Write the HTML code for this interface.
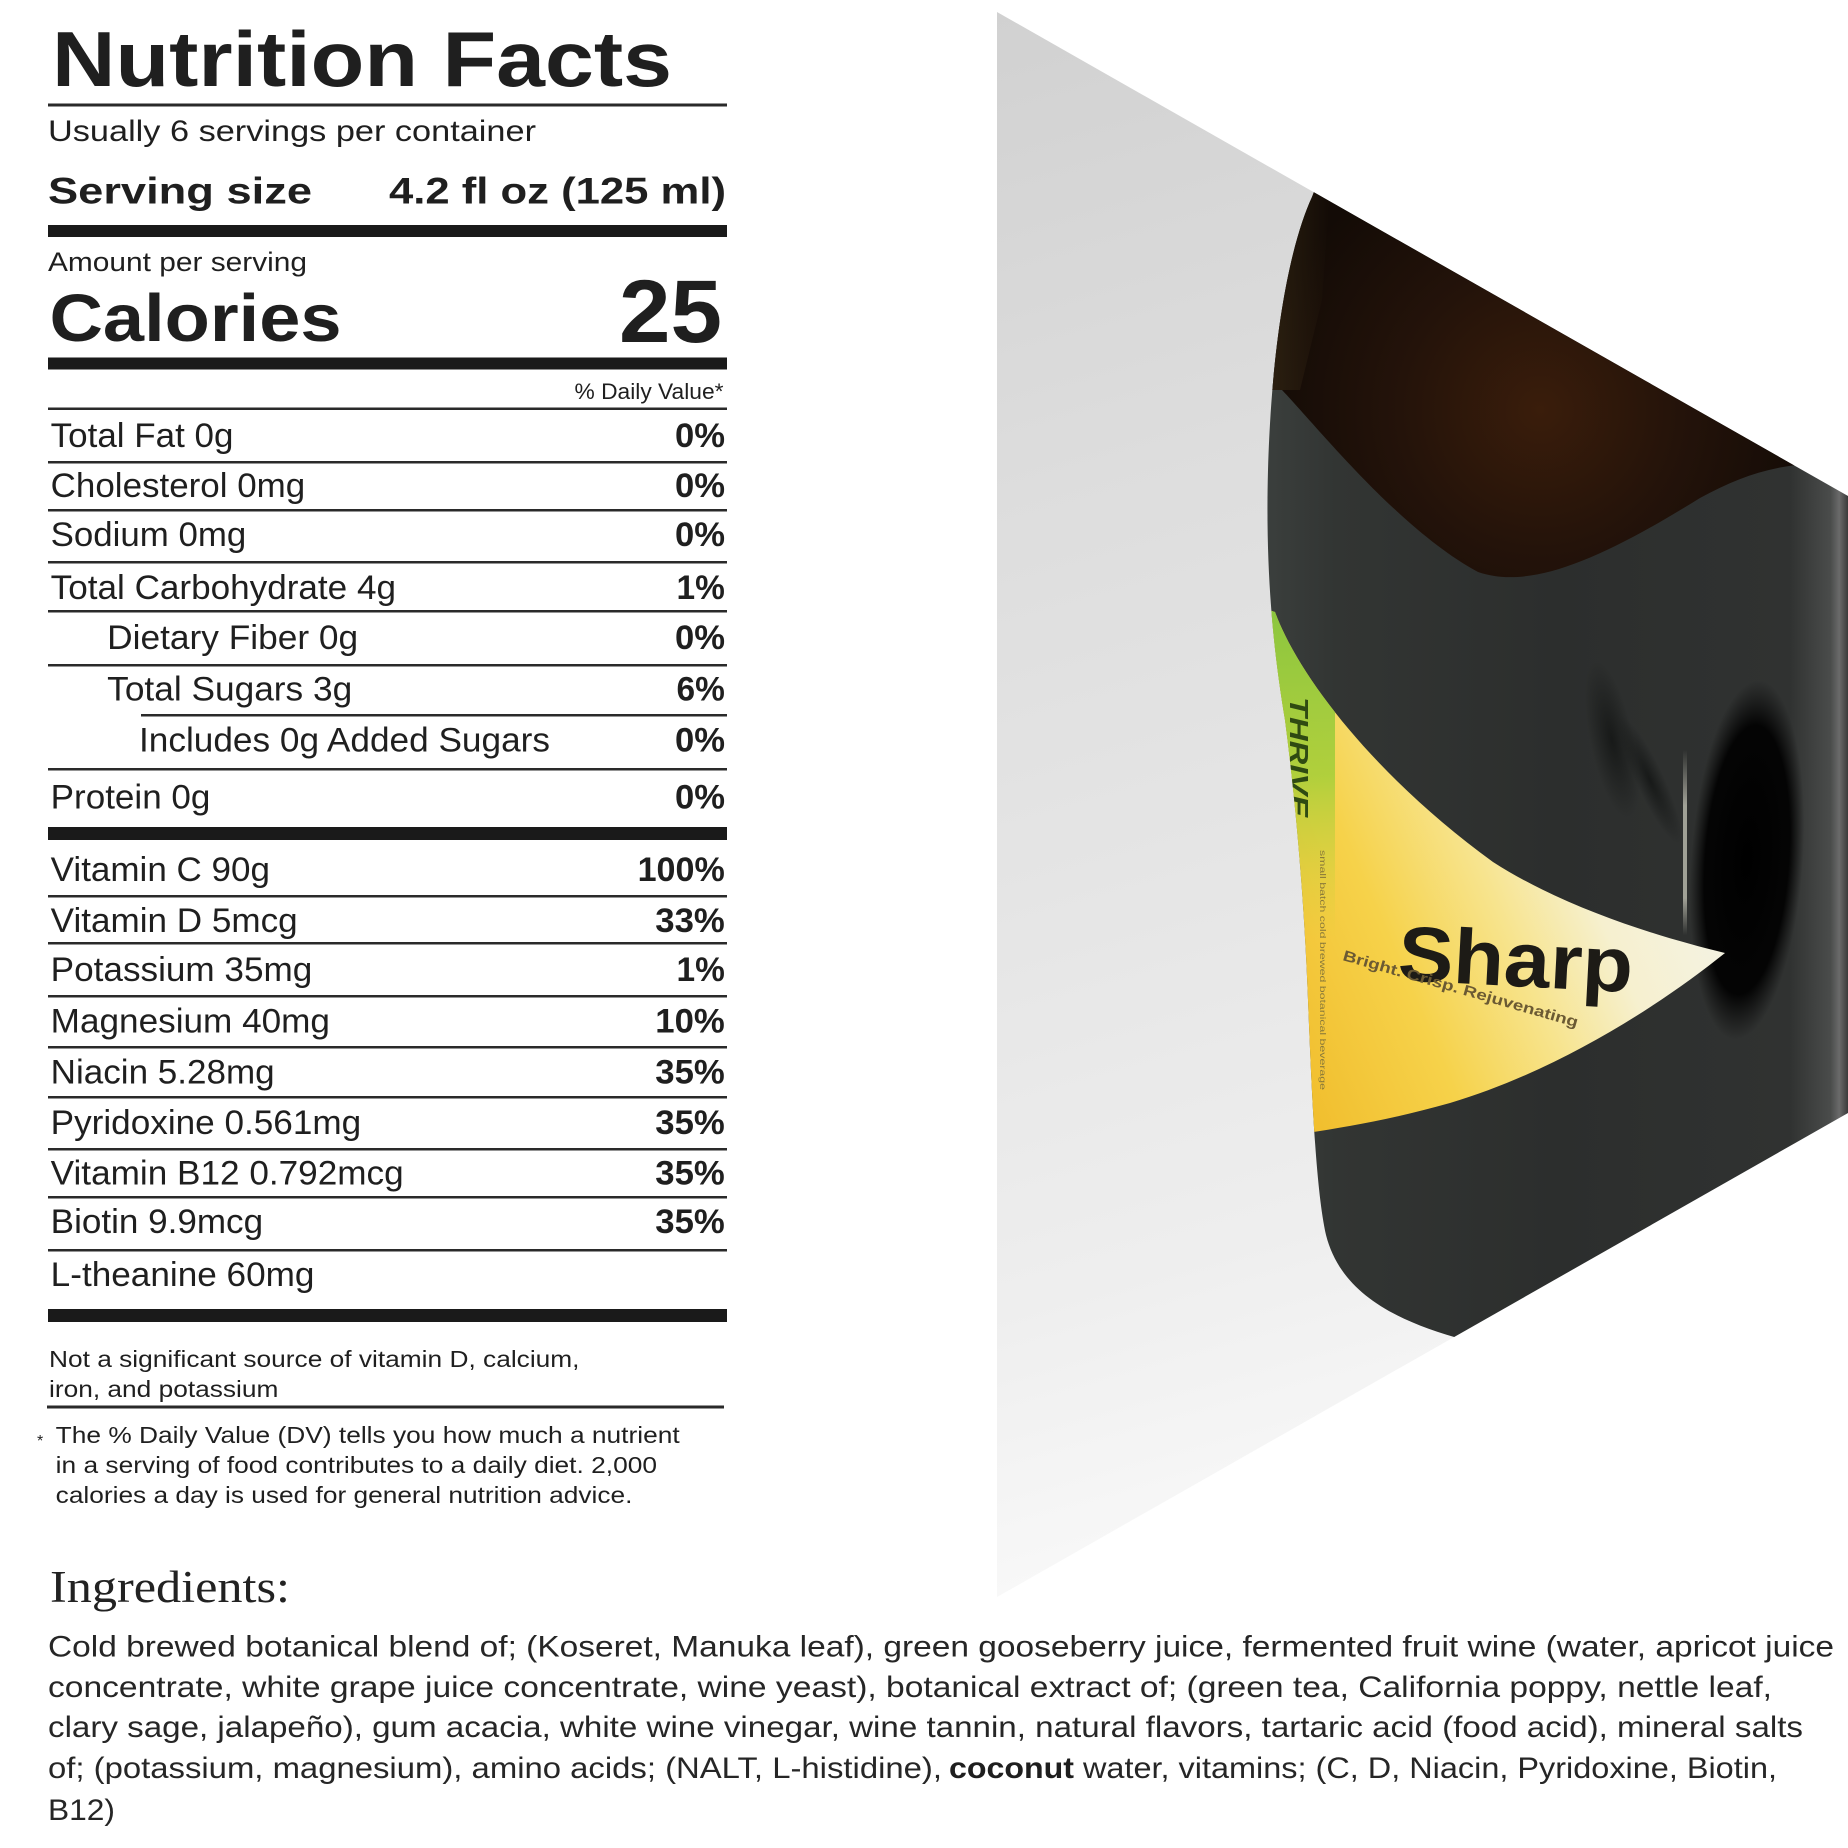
<!DOCTYPE html>
<html><head><meta charset="utf-8">
<style>
html,body{margin:0;padding:0;background:#fff;width:1848px;height:1848px;overflow:hidden;}
svg{display:block;}
.t{font-family:"Liberation Sans",Arial,sans-serif;fill:#1f1f1f;}
.b{font-weight:bold;}
.s{font-family:"Liberation Serif",serif;fill:#222;}
</style></head>
<body>
<svg width="1848" height="1848" viewBox="0 0 1848 1848" xmlns="http://www.w3.org/2000/svg">
<defs>
  <clipPath id="tri"><polygon points="997,12 1848,496 1848,1113 997,1597"/></clipPath>
  <clipPath id="bot"><path d="M1330,150 L1312,197 C1292,240 1272,330 1268,470 C1265,580 1275,660 1285,720 C1298,820 1305,920 1308,1000 C1312,1100 1316,1190 1326,1235 C1340,1290 1390,1320 1465,1340 L1900,1340 L1900,150 Z"/></clipPath>
  <clipPath id="lab"><path d="M1240,600 L1275,612 C1300,680 1380,780 1493,862 C1560,905 1650,935 1725,953 C1660,1005 1560,1070 1450,1103 C1390,1120 1340,1128 1300,1134 L1240,1134 Z"/></clipPath>
  <linearGradient id="gray" x1="0" y1="0" x2="0.15" y2="1">
    <stop offset="0" stop-color="#d1d1d1"/>
    <stop offset="0.3" stop-color="#dddddd"/>
    <stop offset="0.55" stop-color="#e5e5e5"/>
    <stop offset="0.8" stop-color="#eeeeee"/>
    <stop offset="1" stop-color="#f9f9f9"/>
  </linearGradient>
  <linearGradient id="body" gradientUnits="userSpaceOnUse" x1="1265" y1="0" x2="1848" y2="0">
    <stop offset="0" stop-color="#3b3f3d"/>
    <stop offset="0.12" stop-color="#323533"/>
    <stop offset="0.5" stop-color="#2c2e2d"/>
    <stop offset="0.9" stop-color="#303231"/>
    <stop offset="0.97" stop-color="#4a4c4b"/>
    <stop offset="0.985" stop-color="#6a6a6a"/>
    <stop offset="1" stop-color="#3a3a3a"/>
  </linearGradient>
  <radialGradient id="brown" gradientUnits="userSpaceOnUse" cx="1540" cy="410" r="280">
    <stop offset="0" stop-color="#3a1d0b"/>
    <stop offset="0.5" stop-color="#24130a"/>
    <stop offset="1" stop-color="#130b06"/>
  </radialGradient>
  <radialGradient id="blob">
    <stop offset="0" stop-color="#000" stop-opacity="1"/>
    <stop offset="0.75" stop-color="#030303" stop-opacity="0.97"/>
    <stop offset="1" stop-color="#0a0a0a" stop-opacity="0"/>
  </radialGradient>
  <radialGradient id="blob2">
    <stop offset="0" stop-color="#151716" stop-opacity="0.9"/>
    <stop offset="1" stop-color="#151716" stop-opacity="0"/>
  </radialGradient>
  <linearGradient id="hl" x1="0" y1="0" x2="0" y2="1">
    <stop offset="0" stop-color="#bdbdb0" stop-opacity="0"/>
    <stop offset="0.3" stop-color="#bdbdb0" stop-opacity="0.8"/>
    <stop offset="0.8" stop-color="#bdbdb0" stop-opacity="0.8"/>
    <stop offset="1" stop-color="#bdbdb0" stop-opacity="0"/>
  </linearGradient>
  <linearGradient id="labg" gradientUnits="userSpaceOnUse" x1="1310" y1="1100" x2="1725" y2="920">
    <stop offset="0" stop-color="#f1bf2f"/>
    <stop offset="0.3" stop-color="#f6d24a"/>
    <stop offset="0.55" stop-color="#f7e48e"/>
    <stop offset="0.75" stop-color="#f6f0cf"/>
    <stop offset="1" stop-color="#f4f3e4"/>
  </linearGradient>
  <linearGradient id="green" gradientUnits="userSpaceOnUse" x1="0" y1="612" x2="0" y2="940">
    <stop offset="0" stop-color="#8cc63f" stop-opacity="1"/>
    <stop offset="0.5" stop-color="#a9cf3a" stop-opacity="0.9"/>
    <stop offset="1" stop-color="#d8d23a" stop-opacity="0"/>
  </linearGradient>
  <linearGradient id="olive" x1="0" y1="0" x2="1" y2="0">
    <stop offset="0" stop-color="#3e3018" stop-opacity="0.6"/>
    <stop offset="1" stop-color="#3e3018" stop-opacity="0"/>
  </linearGradient>
</defs>

<!-- Right side photo -->
<polygon points="997,12 1848,496 1848,1113 997,1597" fill="url(#gray)"/>
<g clip-path="url(#tri)">
  <g clip-path="url(#bot)">
    <rect x="1200" y="100" width="700" height="1300" fill="url(#body)"/>
    <path d="M1200,100 L1200,390 L1282,390 C1320,430 1400,530 1478,572 C1530,590 1600,560 1700,498 C1760,465 1810,455 1900,470 L1900,100 Z" fill="url(#brown)"/>
    <path d="M1265,190 L1330,190 L1322,300 L1300,390 L1265,390 Z" fill="url(#olive)"/>
    <ellipse cx="1747" cy="860" rx="56" ry="180" fill="url(#blob)" transform="rotate(4 1747 860)"/>
    <ellipse cx="1612" cy="740" rx="22" ry="80" fill="url(#blob2)" transform="rotate(-12 1612 740)"/>
    <ellipse cx="1650" cy="780" rx="14" ry="70" fill="url(#blob2)" transform="rotate(-25 1650 780)"/>
    <rect x="1683" y="750" width="4" height="185" fill="url(#hl)"/>
    <g clip-path="url(#lab)">
      <rect x="1240" y="590" width="500" height="560" fill="url(#labg)"/>
      <polygon points="1240,600 1305,600 1335,700 1335,940 1240,940" fill="url(#green)"/>
      <text x="1290" y="697" class="t b" font-size="26" font-style="italic" style="fill:#2f4a12" textLength="120" lengthAdjust="spacingAndGlyphs" transform="rotate(90 1290 697)">THRIVE</text>
      <text x="1320" y="850" class="t" font-size="8" style="fill:#8a7a3a" textLength="240" lengthAdjust="spacingAndGlyphs" transform="rotate(90 1320 850)">small batch cold brewed botanical beverage</text>
    </g>
    <text x="1397" y="980" class="t b" font-size="78" style="fill:#1d1b16" textLength="235" lengthAdjust="spacingAndGlyphs" transform="rotate(3 1397 980)">Sharp</text>
    <text x="1342" y="960" class="t b" font-size="15" style="fill:#6b5a33" textLength="244" lengthAdjust="spacingAndGlyphs" transform="rotate(16 1342 960)">Bright. Crisp. Rejuvenating</text>
  </g>
</g>

<!-- Nutrition Facts panel -->
<text x="52" y="86" class="t b" font-size="78" textLength="620" lengthAdjust="spacingAndGlyphs">Nutrition Facts</text>
<rect x="48" y="103.5" width="679" height="3" fill="#2a2a2a"/>
<text x="48" y="141" class="t" font-size="30" textLength="488" lengthAdjust="spacingAndGlyphs">Usually 6 servings per container</text>
<text x="48" y="203.5" class="t b" font-size="37" textLength="264" lengthAdjust="spacingAndGlyphs">Serving size</text>
<text x="389" y="203.5" class="t b" font-size="37" textLength="337" lengthAdjust="spacingAndGlyphs">4.2 fl oz (125 ml)</text>
<rect x="48" y="225" width="679" height="12" fill="#1a1a1a"/>
<text x="48" y="271" class="t" font-size="27" textLength="259" lengthAdjust="spacingAndGlyphs">Amount per serving</text>
<text x="49.5" y="341" class="t b" font-size="67" textLength="292" lengthAdjust="spacingAndGlyphs">Calories</text>
<text x="619" y="342" class="t b" font-size="89" textLength="103" lengthAdjust="spacingAndGlyphs">25</text>
<rect x="48" y="357.5" width="679" height="12" fill="#1a1a1a"/>
<text x="574.5" y="399" class="t" font-size="22" textLength="149" lengthAdjust="spacingAndGlyphs">% Daily Value*</text>
<rect x="48" y="407.5" width="679" height="2.5" fill="#2a2a2a"/>

<text x="50.7" y="447" class="t" font-size="34" textLength="182.7" lengthAdjust="spacingAndGlyphs">Total Fat 0g</text>
<text x="675" y="447" class="t b" font-size="34" textLength="50" lengthAdjust="spacingAndGlyphs">0%</text>
<rect x="48" y="461" width="679" height="2.5" fill="#2a2a2a"/>

<text x="50.7" y="497" class="t" font-size="34" textLength="254.5" lengthAdjust="spacingAndGlyphs">Cholesterol 0mg</text>
<text x="675" y="497" class="t b" font-size="34" textLength="50" lengthAdjust="spacingAndGlyphs">0%</text>
<rect x="48" y="509" width="679" height="2.5" fill="#2a2a2a"/>

<text x="50.7" y="546" class="t" font-size="34" textLength="195.6" lengthAdjust="spacingAndGlyphs">Sodium 0mg</text>
<text x="675" y="546" class="t b" font-size="34" textLength="50" lengthAdjust="spacingAndGlyphs">0%</text>
<rect x="48" y="561" width="679" height="2.5" fill="#2a2a2a"/>

<text x="50.7" y="599" class="t" font-size="34" textLength="345.3" lengthAdjust="spacingAndGlyphs">Total Carbohydrate 4g</text>
<text x="676.5" y="599" class="t b" font-size="34" textLength="48.3" lengthAdjust="spacingAndGlyphs">1%</text>
<rect x="48" y="610" width="679" height="2.5" fill="#2a2a2a"/>

<text x="107.2" y="649" class="t" font-size="34" textLength="251" lengthAdjust="spacingAndGlyphs">Dietary Fiber 0g</text>
<text x="675" y="649" class="t b" font-size="34" textLength="50" lengthAdjust="spacingAndGlyphs">0%</text>
<rect x="48" y="664" width="679" height="2.5" fill="#2a2a2a"/>

<text x="107.2" y="700.5" class="t" font-size="34" textLength="245" lengthAdjust="spacingAndGlyphs">Total Sugars 3g</text>
<text x="676.5" y="700.5" class="t b" font-size="34" textLength="48.3" lengthAdjust="spacingAndGlyphs">6%</text>
<rect x="141" y="714" width="586" height="2.5" fill="#2a2a2a"/>

<text x="139" y="751.6" class="t" font-size="34" textLength="411" lengthAdjust="spacingAndGlyphs">Includes 0g Added Sugars</text>
<text x="675" y="751.6" class="t b" font-size="34" textLength="50" lengthAdjust="spacingAndGlyphs">0%</text>
<rect x="48" y="768" width="679" height="2.5" fill="#2a2a2a"/>

<text x="50.7" y="808.5" class="t" font-size="34" textLength="159.7" lengthAdjust="spacingAndGlyphs">Protein 0g</text>
<text x="675" y="808.5" class="t b" font-size="34" textLength="50" lengthAdjust="spacingAndGlyphs">0%</text>
<rect x="48" y="827" width="679" height="13" fill="#1a1a1a"/>

<text x="50.7" y="881" class="t" font-size="34" textLength="219.3" lengthAdjust="spacingAndGlyphs">Vitamin C 90g</text>
<text x="637.6" y="881" class="t b" font-size="34" textLength="87.2" lengthAdjust="spacingAndGlyphs">100%</text>
<rect x="48" y="895" width="679" height="2.5" fill="#2a2a2a"/>

<text x="50.7" y="932" class="t" font-size="34" textLength="247" lengthAdjust="spacingAndGlyphs">Vitamin D 5mcg</text>
<text x="655.3" y="932" class="t b" font-size="34" textLength="69.5" lengthAdjust="spacingAndGlyphs">33%</text>
<rect x="48" y="942" width="679" height="2.5" fill="#2a2a2a"/>

<text x="50.7" y="981" class="t" font-size="34" textLength="261.6" lengthAdjust="spacingAndGlyphs">Potassium 35mg</text>
<text x="676.5" y="981" class="t b" font-size="34" textLength="48.3" lengthAdjust="spacingAndGlyphs">1%</text>
<rect x="48" y="995" width="679" height="2.5" fill="#2a2a2a"/>

<text x="50.7" y="1032.5" class="t" font-size="34" textLength="279.3" lengthAdjust="spacingAndGlyphs">Magnesium 40mg</text>
<text x="655.3" y="1032.5" class="t b" font-size="34" textLength="69.5" lengthAdjust="spacingAndGlyphs">10%</text>
<rect x="48" y="1046" width="679" height="2.5" fill="#2a2a2a"/>

<text x="50.7" y="1083.6" class="t" font-size="34" textLength="224" lengthAdjust="spacingAndGlyphs">Niacin 5.28mg</text>
<text x="655.3" y="1083.6" class="t b" font-size="34" textLength="69.5" lengthAdjust="spacingAndGlyphs">35%</text>
<rect x="48" y="1096" width="679" height="2.5" fill="#2a2a2a"/>

<text x="50.7" y="1134" class="t" font-size="34" textLength="310.5" lengthAdjust="spacingAndGlyphs">Pyridoxine 0.561mg</text>
<text x="655.3" y="1134" class="t b" font-size="34" textLength="69.5" lengthAdjust="spacingAndGlyphs">35%</text>
<rect x="48" y="1148" width="679" height="2.5" fill="#2a2a2a"/>

<text x="50.7" y="1184.6" class="t" font-size="34" textLength="353" lengthAdjust="spacingAndGlyphs">Vitamin B12 0.792mcg</text>
<text x="655.3" y="1184.6" class="t b" font-size="34" textLength="69.5" lengthAdjust="spacingAndGlyphs">35%</text>
<rect x="48" y="1196" width="679" height="2.5" fill="#2a2a2a"/>

<text x="50.7" y="1233" class="t" font-size="34" textLength="212.4" lengthAdjust="spacingAndGlyphs">Biotin 9.9mcg</text>
<text x="655.3" y="1233" class="t b" font-size="34" textLength="69.5" lengthAdjust="spacingAndGlyphs">35%</text>
<rect x="48" y="1249" width="679" height="2.5" fill="#2a2a2a"/>

<text x="50.7" y="1286" class="t" font-size="34" textLength="263.8" lengthAdjust="spacingAndGlyphs">L-theanine 60mg</text>
<rect x="48" y="1309" width="679" height="13" fill="#1a1a1a"/>

<text x="49" y="1367" class="t" font-size="23" textLength="530.5" lengthAdjust="spacingAndGlyphs">Not a significant source of vitamin D, calcium,</text>
<text x="49" y="1397" class="t" font-size="23" textLength="229.4" lengthAdjust="spacingAndGlyphs">iron, and potassium</text>
<rect x="47" y="1405.5" width="677" height="3" fill="#2a2a2a"/>

<text x="37" y="1446" class="t" font-size="16">*</text>
<text x="55.7" y="1443" class="t" font-size="23" textLength="624" lengthAdjust="spacingAndGlyphs">The % Daily Value (DV) tells you how much a nutrient</text>
<text x="55.7" y="1473" class="t" font-size="23" textLength="601.3" lengthAdjust="spacingAndGlyphs">in a serving of food contributes to a daily diet. 2,000</text>
<text x="55.7" y="1503" class="t" font-size="23" textLength="576.7" lengthAdjust="spacingAndGlyphs">calories a day is used for general nutrition advice.</text>

<!-- Ingredients -->
<text x="50" y="1602" class="s" font-size="45" textLength="240" lengthAdjust="spacingAndGlyphs">Ingredients:</text>
<text x="48" y="1656.5" class="t" font-size="30" style="fill:#262626" textLength="1786" lengthAdjust="spacingAndGlyphs">Cold brewed botanical blend of; (Koseret, Manuka leaf), green gooseberry juice, fermented fruit wine (water, apricot juice</text>
<text x="48" y="1697" class="t" font-size="30" style="fill:#262626" textLength="1724" lengthAdjust="spacingAndGlyphs">concentrate, white grape juice concentrate, wine yeast), botanical extract of; (green tea, California poppy, nettle leaf,</text>
<text x="48" y="1737" class="t" font-size="30" style="fill:#262626" textLength="1755" lengthAdjust="spacingAndGlyphs">clary sage, jalapeño), gum acacia, white wine vinegar, wine tannin, natural flavors, tartaric acid (food acid), mineral salts</text>
<text x="48" y="1778" class="t" font-size="30" style="fill:#262626" textLength="894" lengthAdjust="spacingAndGlyphs">of; (potassium, magnesium), amino acids; (NALT, L-histidine),</text>
<text x="949" y="1778" class="t b" font-size="30" style="fill:#1e1e1e" textLength="125" lengthAdjust="spacingAndGlyphs">coconut</text>
<text x="1083" y="1778" class="t" font-size="30" style="fill:#262626" textLength="694" lengthAdjust="spacingAndGlyphs">water, vitamins; (C, D, Niacin, Pyridoxine, Biotin,</text>
<text x="48" y="1820" class="t" font-size="30" style="fill:#262626" textLength="67" lengthAdjust="spacingAndGlyphs">B12)</text>
</svg>
</body></html>
